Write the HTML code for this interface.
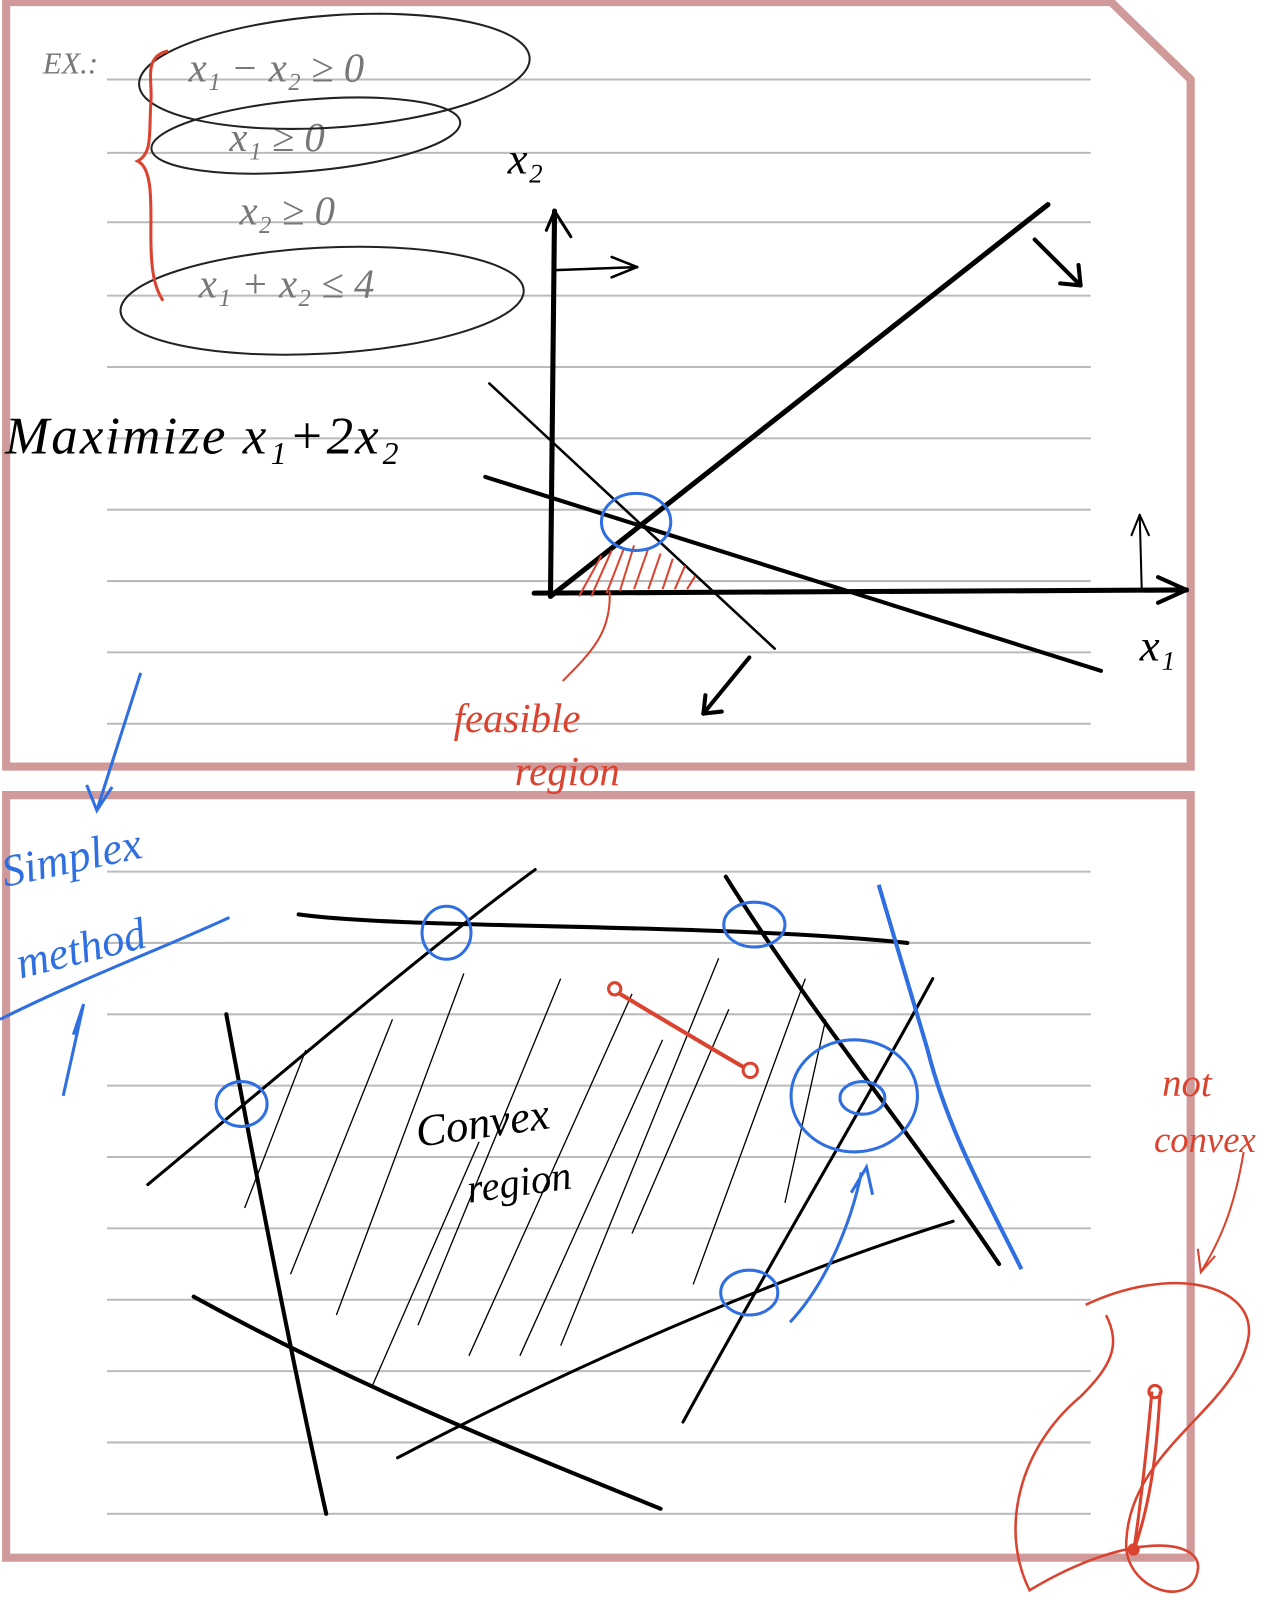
<!DOCTYPE html>
<html><head><meta charset="utf-8">
<style>
html,body{margin:0;padding:0;background:#fff;}
svg{display:block;}
text{font-family:"Liberation Serif",serif;font-style:italic;}
</style></head>
<body>
<svg width="1264" height="1600" viewBox="0 0 1264 1600" xmlns="http://www.w3.org/2000/svg">
<rect width="1264" height="1600" fill="#fff"/>
<g transform="scale(1.0194)">
<!-- card borders -->
<path d="M6,2 L1090,2 L1168,78 L1168,752 L6,752 Z" fill="none" stroke="#d09a9a" stroke-width="8"/>
<path d="M6,780 L1168,780 L1168,1528 L6,1528 Z" fill="none" stroke="#d09a9a" stroke-width="8"/>
<g id="rules" stroke="#bbb" stroke-width="2"></g>

<!-- top text -->
<g fill="#777" font-size="40">
<text x="42" y="72" font-size="30">EX.:</text>
<text x="185" y="80">x₁ − x₂ ≥ 0</text>
<text x="225" y="148">x₁ ≥ 0</text>
<text x="235" y="220">x₂ ≥ 0</text>
<text x="195" y="292">x₁ + x₂ ≤ 4</text>
</g>
<g fill="none" stroke="#222" stroke-width="2">
<ellipse cx="328" cy="70" rx="192" ry="55" transform="rotate(-4 328 70)"/>
<ellipse cx="300" cy="133" rx="152" ry="35" transform="rotate(-5 300 133)"/>
<ellipse cx="316" cy="295" rx="198" ry="52" transform="rotate(-3 316 295)"/>
</g>
<path d="M165,50 C140,55 150,80 148,100 C146,130 150,150 135,158 C150,165 148,200 148,230 C148,260 150,280 160,295" fill="none" stroke="#d9432f" stroke-width="3"/>
<text x="5" y="445" font-size="52" letter-spacing="2" fill="#000">Maximize   x₁+2x₂</text>
<text x="498" y="170" font-size="44" fill="#000">x₂</text>
<text x="1118" y="648" font-size="44" fill="#000">x₁</text>

<g id="plot"></g>

<!-- feasible region annotation -->
<g stroke="#d9432f" stroke-width="2" fill="none">
<path d="M568,585 L590,545 M580,585 L600,540 M595,582 L612,538 M608,580 L622,535 M622,578 L636,538 M636,578 L648,543 M650,578 L660,548 M662,578 L672,555 M674,578 L682,565"/>
<path d="M598,580 C600,620 580,640 552,668"/>
</g>
<text x="445" y="718" font-size="40" fill="#d9432f">feasible</text>
<text x="505" y="770" font-size="40" fill="#d9432f">region</text>
<ellipse cx="624" cy="512" rx="34" ry="28" fill="none" stroke="#2f6fe0" stroke-width="3"/>

<!-- blue simplex -->
<g stroke="#2f6fe0" stroke-width="3" fill="none">
<path d="M138,660 L95,795 M85,770 L95,795 L110,772"/>
<path d="M0,1000 C80,960 160,930 225,900"/>
<path d="M62,1075 L82,985 M72,1015 L82,985"/>
</g>
<text x="5" y="870" font-size="44" fill="#2f6fe0" transform="rotate(-12 5 870)">Simplex</text>
<text x="20" y="960" font-size="44" fill="#2f6fe0" transform="rotate(-14 20 960)">method</text>

<!-- bottom region -->
<g stroke="#000" fill="none" stroke-linecap="round">
<path d="M145,1162 C280,1050 420,930 525,853" stroke-width="3"/>
<path d="M293,897 C400,912 700,905 890,925" stroke-width="4"/>
<path d="M712,860 C800,1000 900,1120 980,1240" stroke-width="4"/>
<path d="M915,960 C850,1080 760,1230 670,1395" stroke-width="3"/>
<path d="M222,995 C260,1200 290,1350 320,1485" stroke-width="4"/>
<path d="M190,1272 C350,1360 500,1420 648,1480" stroke-width="4"/>
<path d="M390,1430 C600,1320 800,1240 935,1198" stroke-width="3"/>
</g>
<g stroke="#000" stroke-width="1.3" fill="none">
<path d="M240,1185 L300,1030 M285,1250 L385,1000 M330,1290 L455,955 M365,1360 L470,1120 M410,1300 L550,960 M460,1330 L620,975 M510,1330 L650,1020 M550,1320 L705,940 M620,1210 L715,990 M680,1260 L790,960 M770,1180 L810,1000"/>
</g>
<text x="410" y="1125" font-size="44" fill="#000" transform="rotate(-8 410 1125)">Convex</text>
<text x="460" y="1180" font-size="40" fill="#000" transform="rotate(-8 460 1180)">region</text>
<path d="M600,970 C650,1000 700,1030 735,1050" stroke="#d9432f" stroke-width="4" fill="none"/>
<circle cx="603" cy="970" r="6" fill="#fff" stroke="#d9432f" stroke-width="3"/>
<circle cx="736" cy="1050" r="7" fill="#fff" stroke="#d9432f" stroke-width="3"/>
<g fill="none" stroke="#2f6fe0" stroke-width="3">
<ellipse cx="438" cy="915" rx="24" ry="26"/>
<ellipse cx="740" cy="907" rx="30" ry="22"/>
<ellipse cx="237" cy="1083" rx="25" ry="22"/>
<ellipse cx="838" cy="1075" rx="62" ry="55"/>
<ellipse cx="846" cy="1077" rx="22" ry="16"/>
<ellipse cx="735" cy="1268" rx="28" ry="22"/>
<path d="M862,868 C880,930 895,980 910,1030 C930,1110 970,1180 1002,1245" stroke-width="4"/>
<path d="M775,1297 C810,1260 835,1200 845,1150 M835,1170 L850,1145 L856,1172"/>
</g>
<text x="1140" y="1075" font-size="38" fill="#d9432f">not</text>
<text x="1132" y="1130" font-size="36" fill="#d9432f">convex</text>
<path d="M1220,1130 C1210,1190 1195,1220 1178,1248 M1175,1225 L1178,1248 L1192,1232" fill="none" stroke="#d9432f" stroke-width="2"/>
<path d="M1065,1280 C1150,1240 1230,1260 1225,1310 C1215,1380 1110,1420 1105,1510 C1100,1560 1170,1580 1175,1540 C1180,1510 1110,1500 1010,1560 C980,1500 1000,1420 1060,1370 C1090,1340 1100,1320 1085,1290" fill="none" stroke="#d9432f" stroke-width="2.5"/>
<path d="M1130,1365 C1125,1420 1120,1470 1112,1522 M1138,1365 C1135,1420 1130,1470 1112,1522" fill="none" stroke="#d9432f" stroke-width="3"/>
<circle cx="1133" cy="1365" r="6" fill="none" stroke="#d9432f" stroke-width="3"/>
<circle cx="1112" cy="1520" r="6" fill="#d9432f"/>
</g>
</svg>
<script>
const topRuleYs=[78,150,218,290,360,430,500,570,640,710];
const botRuleYs=[855,925,995,1065,1135,1205,1275,1345,1415,1485];
const rules=document.getElementById('rules');
topRuleYs.concat(botRuleYs).forEach(y=>{
  const l=document.createElementNS('http://www.w3.org/2000/svg','line');
  l.setAttribute('x1',105);l.setAttribute('x2',1070);l.setAttribute('y1',y);l.setAttribute('y2',y);
  
  
  rules.appendChild(l);
});
// top plot data (x1,x2 coordinate units)
const x1Ticks=[0,1,2,3,4,5,6,7];
const constraintSlopes=[1,-1.18,-0.40];
const constraintIntercepts=[0,2.43,1.54];
const sx=v=>540+v*80, sy=v=>585-v*63;
const NS='http://www.w3.org/2000/svg';
const plot=document.getElementById('plot');
function line(x1,y1,x2,y2,w,name){
  const l=document.createElementNS(NS,'line');
  l.setAttribute('x1',x1);l.setAttribute('y1',y1);l.setAttribute('x2',x2);l.setAttribute('y2',y2);
  l.setAttribute('stroke','#000');l.setAttribute('stroke-width',w);l.setAttribute('stroke-linecap','round');
  
  
  plot.appendChild(l);
}
line(sx(-0.2),sy(0.05),sx(x1Ticks[x1Ticks.length-1]+0.8),sy(0.1),5,'x1-axis');
line(sx(0),sy(0),sx(0.05),sy(6),5,'x2-axis');
line(sx(7.8),sy(0.1),sx(7.45),sy(0.3),4,'x1-arrowhead-top');
line(sx(7.8),sy(0.1),sx(7.45),sy(-0.1),4,'x1-arrowhead-bottom');
line(sx(0.05),sy(6),sx(-0.05),sy(5.7),3,'x2-arrowhead-left');
line(sx(0.05),sy(6),sx(0.25),sy(5.6),3,'x2-arrowhead-right');
const ranges=[[0,6.1],[-0.75,2.75],[-0.8,6.75]];
const widths=[5,2.5,4];
constraintSlopes.forEach((m,i)=>{
  const b=constraintIntercepts[i], [a,c]=ranges[i];
  line(sx(a),sy(m*a+b),sx(c),sy(m*c+b),widths[i],'constraint-line-'+(i+1));
});
line(545,265,625,262,2.5,'direction-arrow');
line(625,262,600,252,2.5,'direction-arrowhead-a');
line(625,262,600,272,2.5,'direction-arrowhead-b');
line(1015,235,1060,280,4,'gradient-arrow-top');
line(1060,280,1040,278,4,'gradient-arrowhead-top');
line(1060,280,1058,260,4,'gradient-arrowhead-top-2');
line(735,645,690,700,4,'gradient-arrow-bottom');
line(690,700,708,698,4,'gradient-arrowhead-bottom');
line(690,700,692,682,4,'gradient-arrowhead-bottom-2');
line(1120,578,1118,505,2,'up-arrow');
line(1118,505,1110,525,2,'up-arrowhead-a');
line(1118,505,1127,525,2,'up-arrowhead-b');
</script>
</body></html>
